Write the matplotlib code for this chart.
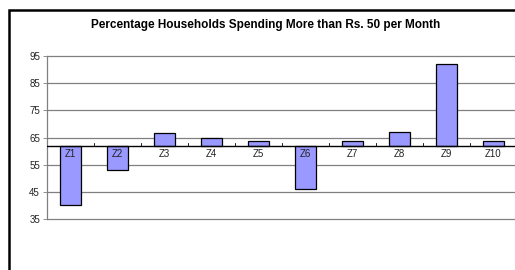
import matplotlib
matplotlib.use("Agg")
import matplotlib.pyplot as plt
from matplotlib.patches import Rectangle

plt.rcParams['font.family'] = ['Liberation Sans', 'DejaVu Sans']

categories = ["Z1", "Z2", "Z3", "Z4", "Z5", "Z6", "Z7", "Z8", "Z9", "Z10"]
values = [40.3, 53.2, 66.6, 64.9, 63.8, 46.1, 63.6, 67.2, 92.2, 63.6]
baseline = 62
yticks = [35, 45, 55, 65, 75, 85, 95]
title = "Percentage Households Spending More than Rs. 50 per Month"

W, H = 515, 270
fig = plt.figure(figsize=(W / 100, H / 100), dpi=100)

# outer chart frame
fig.patches.append(Rectangle((9 / W, -0.2), 1.2, 1.2 - 10 / H, transform=fig.transFigure,
                             fill=False, edgecolor='black', linewidth=1.8))

ax = fig.add_axes([47 / W, 1 - 219 / H, 470 / W, 163 / H])
x = list(range(len(categories)))
heights = [v - baseline for v in values]
ax.bar(x, heights, bottom=baseline, width=0.43, color='#9999FF', edgecolor='black',
       linewidth=0.9, zorder=3)

ax.set_xlim(-0.5, len(categories) - 0.5)
ax.set_ylim(35, 95)
ax.set_yticks(yticks)
ax.set_yticklabels([str(t) for t in yticks], fontsize=7, color='#222222')
ax.tick_params(axis='y', length=3, width=0.6, color='#808080', pad=2)

for t in yticks:
    ax.axhline(t, color='#808080', linewidth=0.9, zorder=1, clip_on=False)
ax.axhline(baseline, color='black', linewidth=1.0, zorder=4)

# category boundary ticks on baseline
for b in range(1, len(categories)):
    ax.plot([b - 0.5, b - 0.5], [baseline, baseline + 1.0], color='black', linewidth=0.6, zorder=4)

for xi, c in zip(x, categories):
    ax.text(xi, baseline - 1.3, c, ha='center', va='top', fontsize=7, color='#222222', zorder=5)

ax.set_xticks([])
for s in ['top', 'right', 'bottom']:
    ax.spines[s].set_visible(False)
ax.spines['left'].set_color('#808080')
ax.spines['left'].set_linewidth(0.9)
ax.patch.set_alpha(0)

fig.text(266 / W, 1 - 25 / H, title, ha='center', va='center', fontsize=8.5, fontweight='bold')

fig.savefig("out.png", dpi=100)
